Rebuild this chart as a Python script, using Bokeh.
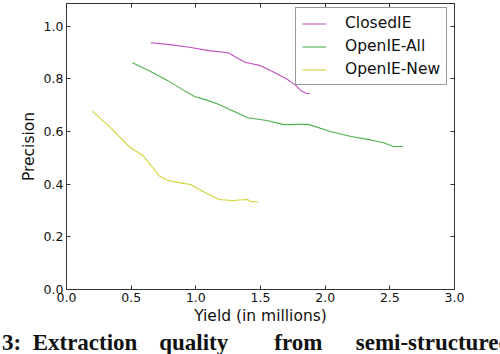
from bokeh.plotting import figure
from bokeh.models import (Range1d, LinearAxis, FixedTicker, NumeralTickFormatter,
                          Title, Legend)
from bokeh.embed import file_html
from bokeh.resources import INLINE

# ---- data ----
closed_x = [0.65, 0.80, 0.95, 1.10, 1.25, 1.30, 1.38, 1.50, 1.60, 1.70, 1.77, 1.81, 1.85, 1.88]
closed_y = [0.937, 0.930, 0.920, 0.907, 0.899, 0.885, 0.863, 0.850, 0.826, 0.800, 0.776, 0.756, 0.745, 0.743]

all_x = [0.51, 0.65, 0.78, 0.90, 0.99, 1.08, 1.17, 1.28, 1.40, 1.55, 1.68, 1.80, 1.87, 2.04, 2.20, 2.35, 2.45, 2.53, 2.60]
all_y = [0.861, 0.828, 0.794, 0.758, 0.733, 0.720, 0.704, 0.680, 0.652, 0.642, 0.626, 0.627, 0.627, 0.600, 0.581, 0.568, 0.557, 0.543, 0.543]

new_x = [0.20, 0.35, 0.49, 0.59, 0.72, 0.78, 0.88, 0.96, 1.07, 1.18, 1.28, 1.40, 1.42, 1.48]
new_y = [0.677, 0.610, 0.540, 0.509, 0.430, 0.415, 0.405, 0.399, 0.368, 0.342, 0.338, 0.342, 0.335, 0.332]

series_names = ["ClosedIE", "OpenIE-All", "OpenIE-New"]
series_colors = ["#c050c0", "#4cb04c", "#d2d236"]

x_ticks = [0.0, 0.5, 1.0, 1.5, 2.0, 2.5, 3.0]
y_ticks = [0.0, 0.2, 0.4, 0.6, 0.8, 1.0]

EN, EM, THIN = "\u2002", "\u2003", "\u2009"
caption = ("Figure 3:" + EN + "Extraction" + EN + " " + THIN + "quality" + EM + EM + "from"
           + EM + " " + THIN + "semi-structured data")

FONT = "DejaVu Sans"
AX = "#333333"

p = figure(width=500, height=354, output_backend="svg", toolbar_location=None,
           x_range=Range1d(0, 3.0), y_range=Range1d(0, 1.086),
           min_border_left=66, min_border_right=46, min_border_top=3, min_border_bottom=65,
           background_fill_color="white", border_fill_color="white")
p.grid.visible = False
p.outline_line_color = AX
p.outline_line_width = 1

xax = p.xaxis[0]
yax = p.yaxis[0]
for ax, ticks in ((xax, x_ticks), (yax, y_ticks)):
    ax.ticker = FixedTicker(ticks=ticks)
    ax.formatter = NumeralTickFormatter(format="0.0")
    ax.major_tick_in = 4
    ax.major_tick_out = 0
    ax.minor_tick_line_color = None
    ax.axis_line_color = AX
    ax.major_tick_line_color = AX
    ax.major_label_text_font = FONT
    ax.major_label_text_font_size = "12.5px"
    ax.major_label_text_color = "#111111"
    ax.axis_label_text_font = FONT
    ax.axis_label_text_font_size = "15.5px"
    ax.axis_label_text_font_style = "normal"
    ax.axis_label_text_color = "#111111"
    ax.major_label_standoff = 3
xax.axis_label = "Yield (in millions)"
yax.axis_label = "Precision"
xax.axis_label_standoff = 2
yax.axis_label_standoff = 3

for loc, ticks in (("above", x_ticks), ("right", y_ticks)):
    a = LinearAxis(ticker=FixedTicker(ticks=ticks), major_label_text_font_size="0px",
                   major_tick_in=4, major_tick_out=0, minor_tick_line_color=None,
                   axis_line_color=AX, major_tick_line_color=AX)
    a.major_label_text_color = None
    p.add_layout(a, loc)

xs = [closed_x, all_x, new_x]
ys = [closed_y, all_y, new_y]
items = []
for name, color, x, y in zip(series_names, series_colors, xs, ys):
    r = p.line(x, y, line_color=color, line_width=1.1)
    items.append((name, [r]))

legend = Legend(items=items, location=(229, 204))
legend.label_text_font = FONT
legend.label_text_font_size = "15.5px"
legend.label_text_color = "#111111"
legend.glyph_width = 24
legend.glyph_height = 17
legend.label_height = 17
legend.label_standoff = 19
legend.padding = 6
legend.spacing = 5
legend.margin = 0
legend.border_line_color = AX
legend.border_line_width = 1
legend.background_fill_color = "white"
legend.background_fill_alpha = 1
p.add_layout(legend, "center")

# cropped figure caption below the chart
cap = Title(text=caption, align="left", offset=-135, standoff=0,
            text_font="Liberation Serif", text_font_size="23px",
            text_font_style="bold", text_color="#111111")
p.add_layout(cap, "below")

open("out.html", "w").write(file_html(p, INLINE))
